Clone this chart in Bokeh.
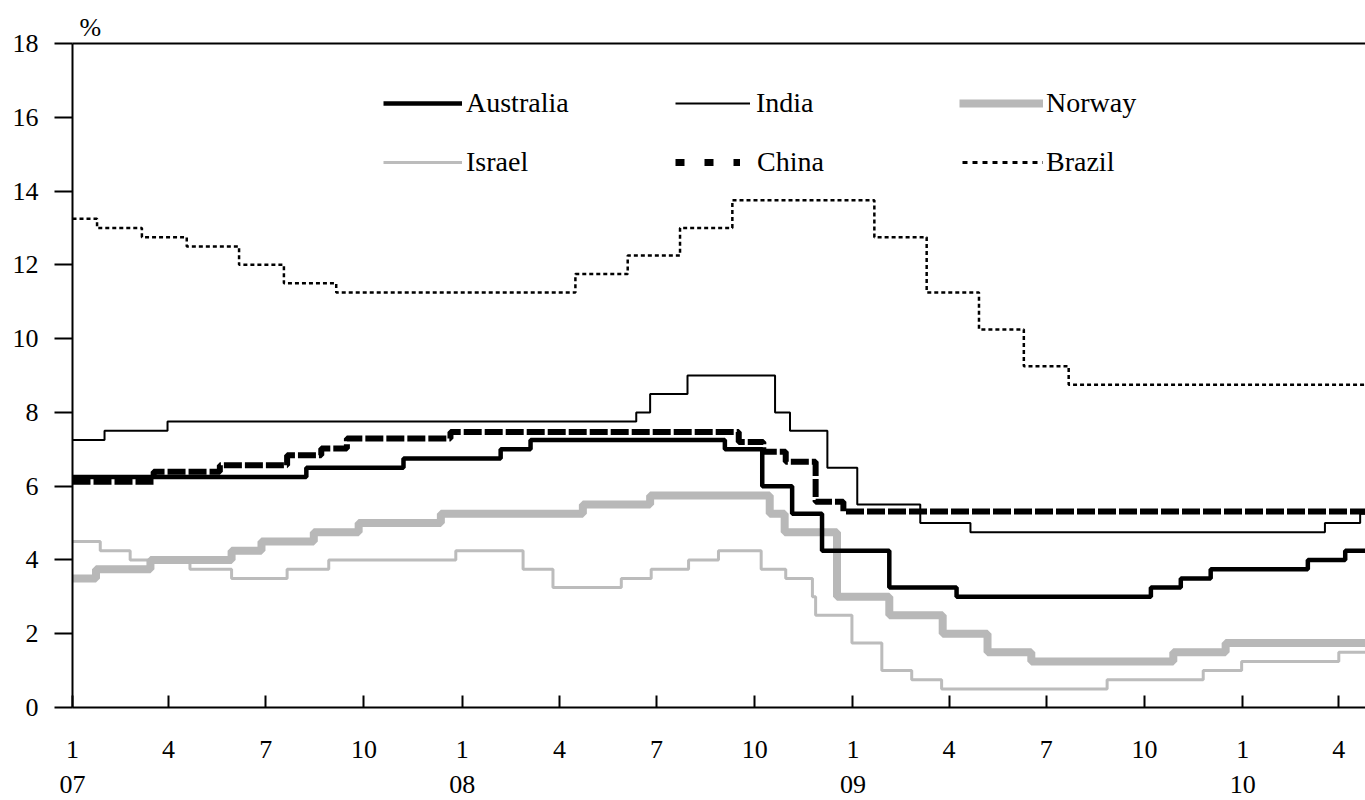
import pandas as pd
from bokeh.plotting import figure
from bokeh.models import (Range1d, FixedTicker, LinearAxis, Legend, LegendItem, Title)
from bokeh.embed import file_html
from bokeh.resources import INLINE

# ---------------- data (policy rates, %) ----------------
END_DATE = "2010-04-30"

australia_dates = ["2007-01-01", "2007-08-08", "2007-11-07", "2008-02-06", "2008-03-05",
                   "2008-09-03", "2008-10-08", "2008-11-05", "2008-12-03", "2009-02-04",
                   "2009-04-08", "2009-10-07", "2009-11-04", "2009-12-02", "2010-03-03",
                   "2010-04-07"]
australia_rates = [6.25, 6.50, 6.75, 7.00, 7.25, 7.00, 6.00, 5.25, 4.25, 3.25,
                   3.00, 3.25, 3.50, 3.75, 4.00, 4.25]

india_dates = ["2007-01-01", "2007-01-31", "2007-03-31", "2008-06-12", "2008-06-25",
               "2008-07-30", "2008-10-20", "2008-11-03", "2008-12-08", "2009-01-05",
               "2009-03-05", "2009-04-21", "2010-03-19", "2010-04-21"]
india_rates = [7.25, 7.50, 7.75, 8.00, 8.50, 9.00, 8.00, 7.50, 6.50, 5.50,
               5.00, 4.75, 5.00, 5.25]

norway_dates = ["2007-01-01", "2007-01-23", "2007-03-15", "2007-05-30", "2007-06-27",
                "2007-08-15", "2007-09-26", "2007-12-12", "2008-04-23", "2008-06-25",
                "2008-10-15", "2008-10-29", "2008-12-17", "2009-02-04", "2009-03-26",
                "2009-05-07", "2009-06-17", "2009-10-28", "2009-12-16"]
norway_rates = [3.50, 3.75, 4.00, 4.25, 4.50, 4.75, 5.00, 5.25, 5.50, 5.75,
                5.25, 4.75, 3.00, 2.50, 2.00, 1.50, 1.25, 1.50, 1.75]

israel_dates = ["2007-01-01", "2007-01-27", "2007-02-24", "2007-04-21", "2007-05-30",
                "2007-07-21", "2007-08-29", "2007-12-26", "2008-02-27", "2008-03-26",
                "2008-05-29", "2008-06-26", "2008-07-31", "2008-08-28", "2008-10-07",
                "2008-10-30", "2008-11-24", "2008-11-27", "2008-12-31", "2009-01-28",
                "2009-02-25", "2009-03-25", "2009-08-27", "2009-11-25", "2009-12-31",
                "2010-04-01"]
israel_rates = [4.50, 4.25, 4.00, 3.75, 3.50, 3.75, 4.00, 4.25, 3.75, 3.25,
                3.50, 3.75, 4.00, 4.25, 3.75, 3.50, 3.00, 2.50, 1.75, 1.00,
                0.75, 0.50, 0.75, 1.00, 1.25, 1.50]

china_dates = ["2007-01-01", "2007-03-18", "2007-05-19", "2007-07-21", "2007-08-22",
               "2007-09-15", "2007-12-21", "2008-09-16", "2008-10-09", "2008-10-30",
               "2008-11-27", "2008-12-23"]
china_rates = [6.12, 6.39, 6.57, 6.84, 7.02, 7.29, 7.47, 7.20, 6.93, 6.66, 5.58, 5.31]

brazil_dates = ["2007-01-01", "2007-01-24", "2007-03-07", "2007-04-18", "2007-06-06",
                "2007-07-18", "2007-09-05", "2008-04-16", "2008-06-04", "2008-07-23",
                "2008-09-10", "2009-01-21", "2009-03-11", "2009-04-29", "2009-06-10",
                "2009-07-22"]
brazil_rates = [13.25, 13.00, 12.75, 12.50, 12.00, 11.50, 11.25, 11.75, 12.25, 13.00,
                13.75, 12.75, 11.25, 10.25, 9.25, 8.75]

month_tick_dates = ["2007-01-01", "2007-04-01", "2007-07-01", "2007-10-01",
                    "2008-01-01", "2008-04-01", "2008-07-01", "2008-10-01",
                    "2009-01-01", "2009-04-01", "2009-07-01", "2009-10-01",
                    "2010-01-01", "2010-04-01"]
month_tick_labels = ["1", "4", "7", "10", "1", "4", "7", "10",
                     "1", "4", "7", "10", "1", "4"]
year_tick_dates = ["2007-01-01", "2008-01-01", "2009-01-01", "2010-01-01"]
year_tick_labels = ["07", "08", "09", "10"]
y_ticks = [0, 2, 4, 6, 8, 10, 12, 14, 16, 18]

X_START = "2007-01-01"
X_END = "2010-04-26"

# ---------------- helpers ----------------
FONT = "Liberation Serif"


def ms(d):
    return pd.Timestamp(d).value / 1e6


def series(dates, rates):
    xs = pd.to_datetime(list(dates) + [END_DATE])
    ys = list(rates) + [rates[-1]]
    return xs, ys


# layout (page pixels)
FRAME_LEFT = 72
FRAME_BOTTOM = 707
KEY_H = 34

p = figure(width=1365, height=800, x_axis_type="datetime",
           x_range=Range1d(ms(X_START), ms(X_END)), y_range=Range1d(0, 18),
           output_backend="svg", toolbar_location=None, title=None,
           min_border_left=72, min_border_right=0, min_border_top=43, min_border_bottom=93)
p.xgrid.visible = False
p.ygrid.visible = False
p.outline_line_color = None
p.background_fill_color = "white"
p.border_fill_color = "white"

# y axis
ya = p.yaxis[0]
ya.ticker = FixedTicker(ticks=y_ticks)
ya.axis_line_width = 2
ya.major_tick_line_width = 2
ya.major_tick_out = 18
ya.major_tick_in = 0
ya.minor_tick_line_color = None
ya.major_label_standoff = 16
ya.major_label_text_font = FONT
ya.major_label_text_font_size = "26px"
ya.major_label_text_color = "black"

# x axis (months)
xa = p.xaxis[0]
xa.ticker = FixedTicker(ticks=[ms(d) for d in month_tick_dates])
xa.major_label_overrides = {ms(d): lab for d, lab in zip(month_tick_dates, month_tick_labels)}
xa.axis_line_width = 2
xa.major_tick_line_width = 2
xa.major_tick_in = 12
xa.major_tick_out = 0
xa.minor_tick_line_color = None
xa.major_label_standoff = 33
xa.major_label_text_font = FONT
xa.major_label_text_font_size = "26px"
xa.major_label_text_color = "black"

# x axis (years)
ya2 = LinearAxis(ticker=FixedTicker(ticks=[ms(d) for d in year_tick_dates]),
                 major_label_overrides={ms(d): lab for d, lab in zip(year_tick_dates, year_tick_labels)},
                 axis_line_color=None, major_tick_line_color=None, minor_tick_line_color=None,
                 major_label_standoff=9, major_label_text_font=FONT,
                 major_label_text_font_size="26px", major_label_text_color="black")
p.add_layout(ya2, "below")

# top frame line
top = LinearAxis(ticker=FixedTicker(ticks=[]), axis_line_width=2,
                 major_tick_line_color=None, minor_tick_line_color=None,
                 major_label_text_font_size="0px", major_label_standoff=0)
p.add_layout(top, "above")

# unit label
p.add_layout(Title(text="%", align="left", offset=7, standoff=4,
                   text_font=FONT, text_font_size="26px", text_font_style="normal",
                   text_color="black"), "above")

# series
x, y = series(israel_dates, israel_rates)
israel_r = p.step(x, y, mode="after", line_color="#bcbcbc", line_width=3)
x, y = series(norway_dates, norway_rates)
norway_r = p.step(x, y, mode="after", line_color="#b8b8b8", line_width=8)
x, y = series(brazil_dates, brazil_rates)
brazil_r = p.step(x, y, mode="after", line_color="black", line_width=2.5, line_dash="4 3")
x, y = series(china_dates, china_rates)
china_r = p.step(x, y, mode="after", line_color="black", line_width=6, line_dash="18 3")
x, y = series(india_dates, india_rates)
india_r = p.step(x, y, mode="after", line_color="black", line_width=2)
x, y = series(australia_dates, australia_rates)
australia_r = p.step(x, y, mode="after", line_color="black", line_width=4.5)

# hidden copies used only for their keys (key dash patterns differ slightly)
x, y = series(china_dates, china_rates)
china_key = p.step(x, y, mode="after", line_color="black", line_width=7, line_dash="9 20")
china_key.visible = False
x, y = series(brazil_dates, brazil_rates)
brazil_key = p.step(x, y, mode="after", line_color="black", line_width=3, line_dash="5 5")
brazil_key.visible = False


def add_key(renderer, label, left_px, center_px, glyph_w, standoff):
    leg = Legend(items=[LegendItem(label=label, renderers=[renderer])],
                 location=(left_px - FRAME_LEFT, FRAME_BOTTOM - center_px - KEY_H / 2),
                 orientation="horizontal", glyph_width=glyph_w, glyph_height=KEY_H,
                 label_height=KEY_H, label_standoff=standoff, padding=0, margin=0,
                 spacing=0, border_line_color=None, background_fill_alpha=0,
                 label_text_font=FONT, label_text_font_size="28px",
                 label_text_color="black")
    p.add_layout(leg)


add_key(australia_r, "Australia", 383, 103, 79, 4)
add_key(india_r, "India", 675, 103, 75, 6)
add_key(norway_r, "Norway", 959, 103, 84, 3)
add_key(israel_r, "Israel", 383, 162, 79, 4)
add_key(china_key, "China", 675, 162, 65, 17)
add_key(brazil_key, "Brazil", 962, 162, 81, 3)

open("out.html", "w").write(file_html(p, INLINE))
